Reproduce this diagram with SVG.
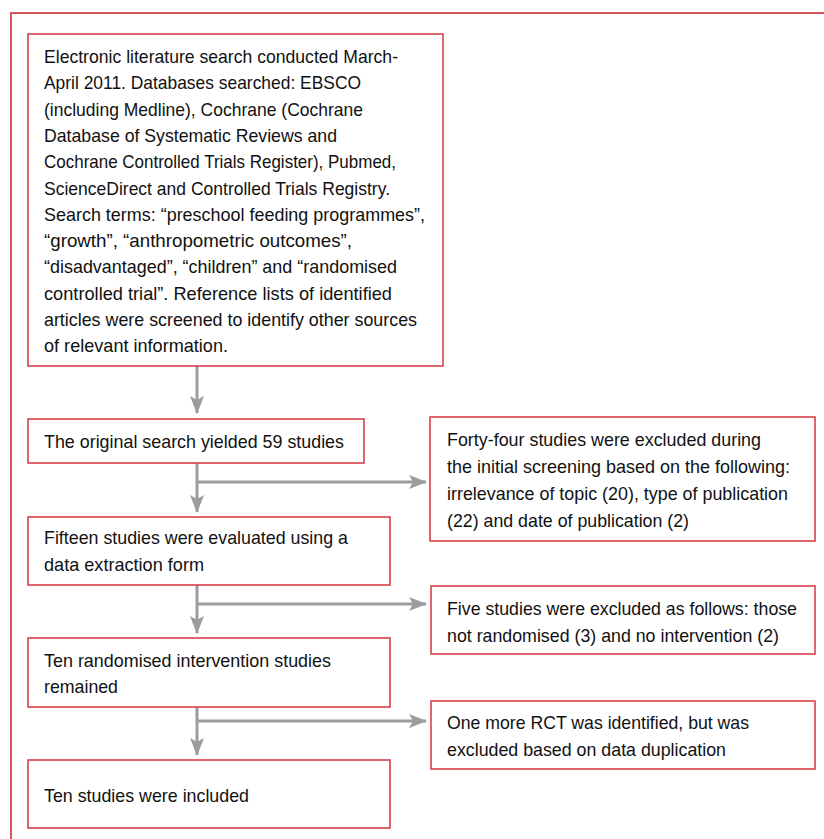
<svg xmlns="http://www.w3.org/2000/svg" width="824" height="839" viewBox="0 0 824 839">
<defs>
<style>
.box{fill:#fff;stroke:#d8404c;stroke-width:1.6}
.outer{fill:none;stroke:#d8545e;stroke-width:2}
text{font-family:"Liberation Sans",Arial,sans-serif;font-size:19px;fill:#111}
.c{fill:none;stroke:#9b9c9f;stroke-width:3}
</style>
<marker id="ah" viewBox="0 0 18 14" refX="17" refY="7" markerWidth="18" markerHeight="14" markerUnits="userSpaceOnUse" orient="auto">
<path d="M0,0 L18,7 L0,14 L4,7 Z" fill="#9b9c9f"/>
</marker>
</defs>
<rect class="outer" x="11" y="13" width="830" height="840"/>
<g id="connectors">
<line class="c" x1="197" y1="366" x2="197" y2="413" marker-end="url(#ah)"/>
<line class="c" x1="197" y1="463" x2="197" y2="512" marker-end="url(#ah)"/>
<line class="c" x1="197" y1="482" x2="426" y2="482" marker-end="url(#ah)"/>
<line class="c" x1="197" y1="585" x2="197" y2="633" marker-end="url(#ah)"/>
<line class="c" x1="197" y1="604" x2="426" y2="604" marker-end="url(#ah)"/>
<line class="c" x1="197" y1="707" x2="197" y2="755" marker-end="url(#ah)"/>
<line class="c" x1="197" y1="721" x2="426" y2="721" marker-end="url(#ah)"/>
</g>
<g id="n1">
<rect class="box" x="28" y="34" width="415" height="332"/>
<text x="44" y="63" textLength="354" lengthAdjust="spacingAndGlyphs">Electronic literature search conducted March-</text>
<text x="44" y="89.3" textLength="317" lengthAdjust="spacingAndGlyphs">April 2011. Databases searched: EBSCO</text>
<text x="44" y="115.6" textLength="319" lengthAdjust="spacingAndGlyphs">(including Medline), Cochrane (Cochrane</text>
<text x="44" y="141.9" textLength="293" lengthAdjust="spacingAndGlyphs">Database of Systematic Reviews and</text>
<text x="44" y="168.2" textLength="352" lengthAdjust="spacingAndGlyphs">Cochrane Controlled Trials Register), Pubmed,</text>
<text x="44" y="194.5" textLength="346" lengthAdjust="spacingAndGlyphs">ScienceDirect and Controlled Trials Registry.</text>
<text x="44" y="220.8" textLength="381" lengthAdjust="spacingAndGlyphs">Search terms: “preschool feeding programmes”,</text>
<text x="44" y="247.1" textLength="308" lengthAdjust="spacingAndGlyphs">“growth”, “anthropometric outcomes”,</text>
<text x="44" y="273.4" textLength="353" lengthAdjust="spacingAndGlyphs">“disadvantaged”, “children” and “randomised</text>
<text x="44" y="299.7" textLength="348" lengthAdjust="spacingAndGlyphs">controlled trial”. Reference lists of identified</text>
<text x="44" y="326" textLength="373" lengthAdjust="spacingAndGlyphs">articles were screened to identify other sources</text>
<text x="44" y="352.3" textLength="184" lengthAdjust="spacingAndGlyphs">of relevant information.</text>
</g>
<g id="n2">
<rect class="box" x="28" y="419" width="336" height="44"/>
<text x="44" y="448" textLength="300" lengthAdjust="spacingAndGlyphs">The original search yielded 59 studies</text>
</g>
<g id="n3">
<rect class="box" x="430" y="417" width="385" height="124"/>
<text x="447" y="446" textLength="314" lengthAdjust="spacingAndGlyphs">Forty-four studies were excluded during</text>
<text x="447" y="473" textLength="343" lengthAdjust="spacingAndGlyphs">the initial screening based on the following:</text>
<text x="447" y="500" textLength="341" lengthAdjust="spacingAndGlyphs">irrelevance of topic (20), type of publication</text>
<text x="447" y="526.5" textLength="242" lengthAdjust="spacingAndGlyphs">(22) and date of publication (2)</text>
</g>
<g id="n4">
<rect class="box" x="28" y="517" width="362" height="68"/>
<text x="44" y="544" textLength="304" lengthAdjust="spacingAndGlyphs">Fifteen studies were evaluated using a</text>
<text x="44" y="571" textLength="160" lengthAdjust="spacingAndGlyphs">data extraction form</text>
</g>
<g id="n5">
<rect class="box" x="431" y="586" width="384" height="68"/>
<text x="447" y="615" textLength="350" lengthAdjust="spacingAndGlyphs">Five studies were excluded as follows: those</text>
<text x="447" y="642" textLength="332" lengthAdjust="spacingAndGlyphs">not randomised (3) and no intervention (2)</text>
</g>
<g id="n6">
<rect class="box" x="28" y="638" width="362" height="69"/>
<text x="44" y="667" textLength="287" lengthAdjust="spacingAndGlyphs">Ten randomised intervention studies</text>
<text x="44" y="693" textLength="74" lengthAdjust="spacingAndGlyphs">remained</text>
</g>
<g id="n7">
<rect class="box" x="431" y="701" width="384" height="68"/>
<text x="447" y="729" textLength="302" lengthAdjust="spacingAndGlyphs">One more RCT was identified, but was</text>
<text x="447" y="756" textLength="279" lengthAdjust="spacingAndGlyphs">excluded based on data duplication</text>
</g>
<g id="n8">
<rect class="box" x="28" y="760" width="362" height="68"/>
<text x="44" y="802" textLength="205" lengthAdjust="spacingAndGlyphs">Ten studies were included</text>
</g>
</svg>
